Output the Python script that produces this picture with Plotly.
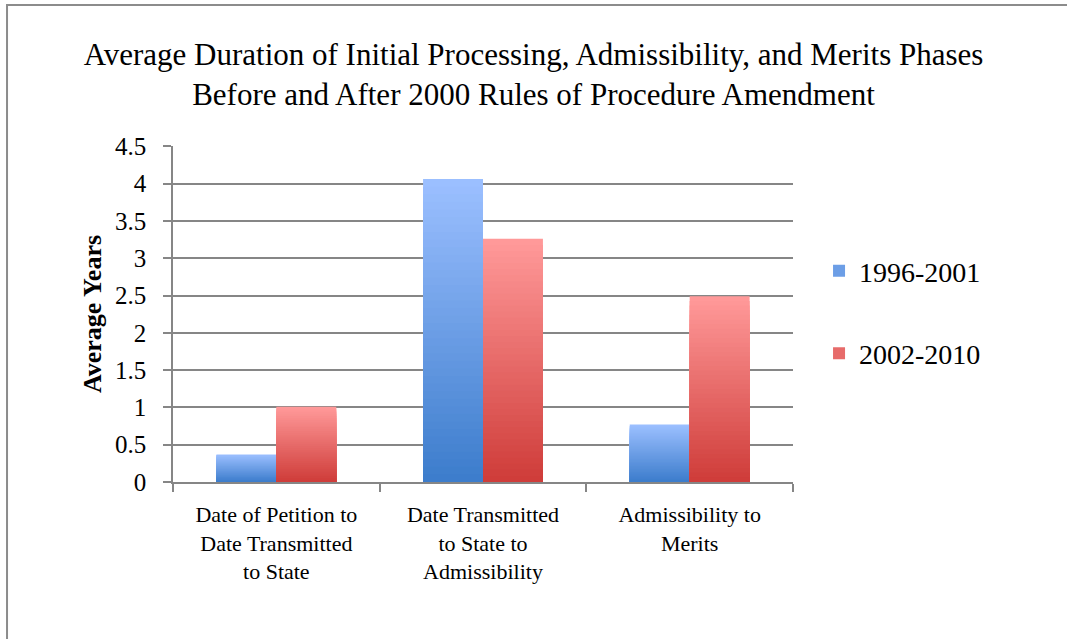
import plotly.graph_objects as go

# data
categories = ["Date of Petition to<br>Date Transmitted<br>to State",
              "Date Transmitted<br>to State to<br>Admissibility",
              "Admissibility to<br>Merits"]
series_names = ["1996-2001", "2002-2010"]
years_1996_2001 = [0.37, 4.06, 0.77]
years_2002_2010 = [1.01, 3.26, 2.49]

title_text = ("Average Duration of Initial Processing, Admissibility, and Merits Phases<br>"
              "Before and After 2000 Rules of Procedure Amendment")

FONT = "Liberation Serif"
# gradient ends (top colour, bottom colour) for each series
GRADIENTS = {
    "1996-2001": ((155, 191, 255), (61, 125, 204)),
    "2002-2010": ((255, 153, 153), (207, 61, 58)),
}
N_STEPS = 40


def mix(c_top, c_bot, t):
    r, g, b = (round(a + (b_ - a) * t) for a, b_ in zip(c_bot, c_top))
    return f"rgb({r},{g},{b})"


fig = go.Figure()

# Excel-style vertical gradient: overlapping bars from tallest/lightest
# to shortest/darkest, all sharing one offset slot
for name, vals in zip(series_names, [years_1996_2001, years_2002_2010]):
    top, bot = GRADIENTS[name]
    for k in range(N_STEPS, 0, -1):
        fig.add_trace(go.Bar(
            x=categories,
            y=[v * k / N_STEPS for v in vals],
            offsetgroup=name,
            marker=dict(color=mix(top, bot, (k - 1) / (N_STEPS - 1)), line_width=0),
            name=name,
            legendgroup=name,
            showlegend=False,
            hoverinfo="skip",
        ))
    # legend entry
    fig.add_trace(go.Bar(
        x=[None], y=[None], name=name, legendgroup=name,
        marker=dict(color=mix(top, bot, 0.5), line_width=0),
    ))

fig.update_layout(
    width=1067, height=639,
    paper_bgcolor="white", plot_bgcolor="white",
    font=dict(family=FONT, color="black", size=22),
    barmode="group",
    bargap=0.42, bargroupgap=0,
    margin=dict(l=173, r=274, t=146, b=157),
    title=dict(text=title_text, x=0.5, xanchor="center",
               y=0.898, yanchor="top",
               font=dict(family=FONT, size=31)),
    legend=dict(x=1.042, y=0.702, xanchor="left", yanchor="top",
                font=dict(family=FONT, size=28),
                tracegroupgap=43, itemwidth=30,
                bgcolor="rgba(0,0,0,0)"),
    xaxis=dict(showline=True, linecolor="#868686", linewidth=1.5,
               ticks="outside", tickcolor="#868686", ticklen=8, tickwidth=1.5,
               tickson="boundaries", showgrid=False, ticklabelstandoff=12,
               tickfont=dict(family=FONT, size=22)),
    yaxis=dict(range=[0, 4.504], dtick=0.5, showline=True, linecolor="#868686", linewidth=1.5,
               ticks="outside", tickcolor="#868686", ticklen=8, tickwidth=1.5,
               showgrid=True, gridcolor="#868686", gridwidth=1.5,
               zeroline=False, tickformat="~g", ticklabelstandoff=12,
               tickfont=dict(family=FONT, size=25),
               title=dict(text="<b>Average Years</b>", standoff=6,
                          font=dict(family=FONT, size=26))),
    shapes=[dict(type="rect", xref="paper", yref="paper",
                 x0=-0.2677, x1=1.6, y0=-0.7, y1=1.4196,
                 line=dict(color="#8c8c8c", width=2), layer="below")],
)

# drop the default page margin so the figure sits at the window's corner
fig.write_html("out.html", config={"displayModeBar": False},
               post_script="document.body.style.margin='0';")
